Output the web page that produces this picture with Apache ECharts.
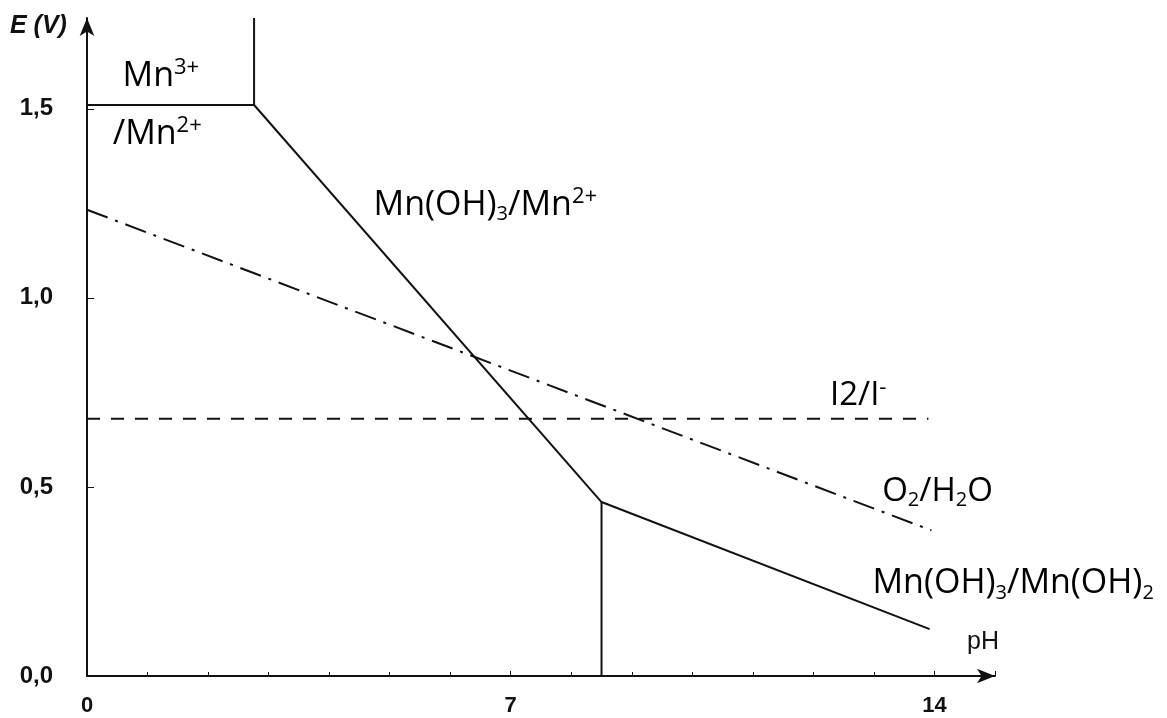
<!DOCTYPE html>
<html><head><meta charset="utf-8">
<script src="https://cdn.jsdelivr.net/npm/echarts@6/dist/echarts.min.js"></script>
<style>html,body{margin:0;padding:0;background:#fff}#c{width:1167px;height:718px}</style>
</head><body><div id="c"></div>
<script>
// pH / E(V) points
const mn3Mn2 = [[0, 1.51], [2.76, 1.51]];
const mn3Border = [[2.76, 1.51], [2.76, 1.74]];
const mnOH3Mn2 = [[2.76, 1.51], [8.5, 0.46]];
const mnOH2Border = [[8.5, 0], [8.5, 0.46]];
const mnOH3MnOH2 = [[8.5, 0.46], [13.92, 0.124]];
const i2I = [[0, 0.68], [13.9, 0.68]];
const o2H2O = [[0, 1.233], [13.95, 0.385]];
const xTickLabels = [0, 7, 14];
const yTickLabels = [0, 0.5, 1.0, 1.5];
// annotation texts with their anchor (pH, E)
const annotations = [
  ['Mn{sup|3+}', 1.22, 1.585],
  ['/Mn{sup|2+}', 1.16, 1.432],
  ['Mn(OH){sub|3}/Mn{sup|2+}', 6.58, 1.245],
  ['I2/I{sup|-}', 12.74, 0.742],
  ['O{sub|2}/H{sub|2}O', 14.05, 0.488],
  ['Mn(OH){sub|3}/Mn(OH){sub|2}', 15.3, 0.245]
];
const annotationSizes = [34, 34, 34, 33, 33, 34];

const ink = '#111';
const font = 'Open Sans';

function lineSeries(data, dash) {
  return {
    type: 'line', data: data, symbol: 'none', silent: true, animation: false,
    lineStyle: { color: ink, width: 2, type: dash || 'solid' }
  };
}

const annData = annotations.map((a, i) => {
  const F = annotationSizes[i];
  const L = Math.round(F * 1.16);
  return {
    value: [a[1], a[2]],
    label: {
      show: true, position: 'inside', formatter: a[0], opacity: 1,
      fontFamily: font, fontSize: F, color: '#000', lineHeight: L,
      textBorderWidth: 0,
      rich: {
        sup: { fontFamily: font, fontSize: Math.round(F * 0.66), color: '#000', lineHeight: Math.round(L * 0.74), verticalAlign: 'top' },
        sub: { fontFamily: font, fontSize: Math.round(F * 0.6), color: '#000', lineHeight: Math.round(L * 0.45), verticalAlign: 'bottom' }
      }
    }
  };
});

const chart = echarts.init(document.getElementById('c'), null, { renderer: 'canvas' });
chart.setOption({
  animation: false,
  backgroundColor: '#fff',
  grid: { left: 87, right: 172, top: 18, bottom: 42, containLabel: false },
  xAxis: {
    type: 'value', min: 0, max: 15, interval: 7,
    axisLine: { show: true, symbol: ['none', 'arrow'], symbolSize: [11, 18], lineStyle: { color: ink, width: 2 } },
    axisTick: { show: true, inside: true, length: 5, lineStyle: { color: ink, width: 1 } },
    minorTick: { show: true, splitNumber: 7, length: 4, lineStyle: { color: ink, width: 1 } },
    splitLine: { show: false },
    axisLabel: {
      showMaxLabel: false, margin: 19, color: ink, fontFamily: 'Liberation Sans', fontWeight: 'bold', fontSize: 22,
      formatter: v => xTickLabels.includes(v) ? String(v) : ''
    }
  },
  yAxis: {
    type: 'value', min: 0, max: 1.74, interval: 0.5,
    axisLine: { show: true, symbol: ['none', 'arrow'], symbolSize: [11, 18], lineStyle: { color: ink, width: 2 } },
    axisTick: { show: true, inside: true, length: 7, lineStyle: { color: ink, width: 1 } },
    splitLine: { show: false },
    axisLabel: {
      showMaxLabel: false, margin: 34, color: ink, fontFamily: 'Liberation Sans', fontWeight: 'bold', fontSize: 24,
      formatter: v => yTickLabels.some(t => Math.abs(t - v) < 1e-6) ? v.toFixed(1).replace('.', ',') : ''
    }
  },
  graphic: [
    { type: 'text', left: 10, top: 14, silent: true,
      style: { text: 'E (V)', fontFamily: 'Liberation Sans', fontWeight: 'bold', fontStyle: 'italic', fontSize: 25, fill: ink } },
    { type: 'text', left: 967, top: 630, silent: true,
      style: { text: 'pH', fontFamily: 'Liberation Sans', fontSize: 25, fill: ink } }
  ],
  series: [
    lineSeries(mn3Mn2),
    lineSeries(mn3Border),
    lineSeries(mnOH3Mn2),
    lineSeries(mnOH2Border),
    lineSeries(mnOH3MnOH2),
    lineSeries(i2I, [13, 11]),
    lineSeries(o2H2O, [22, 8, 3, 8]),
    { type: 'scatter', data: annData, symbolSize: 0, itemStyle: { color: '#000', opacity: 1 }, clip: false, silent: true, animation: false }
  ]
});
</script></body></html>
